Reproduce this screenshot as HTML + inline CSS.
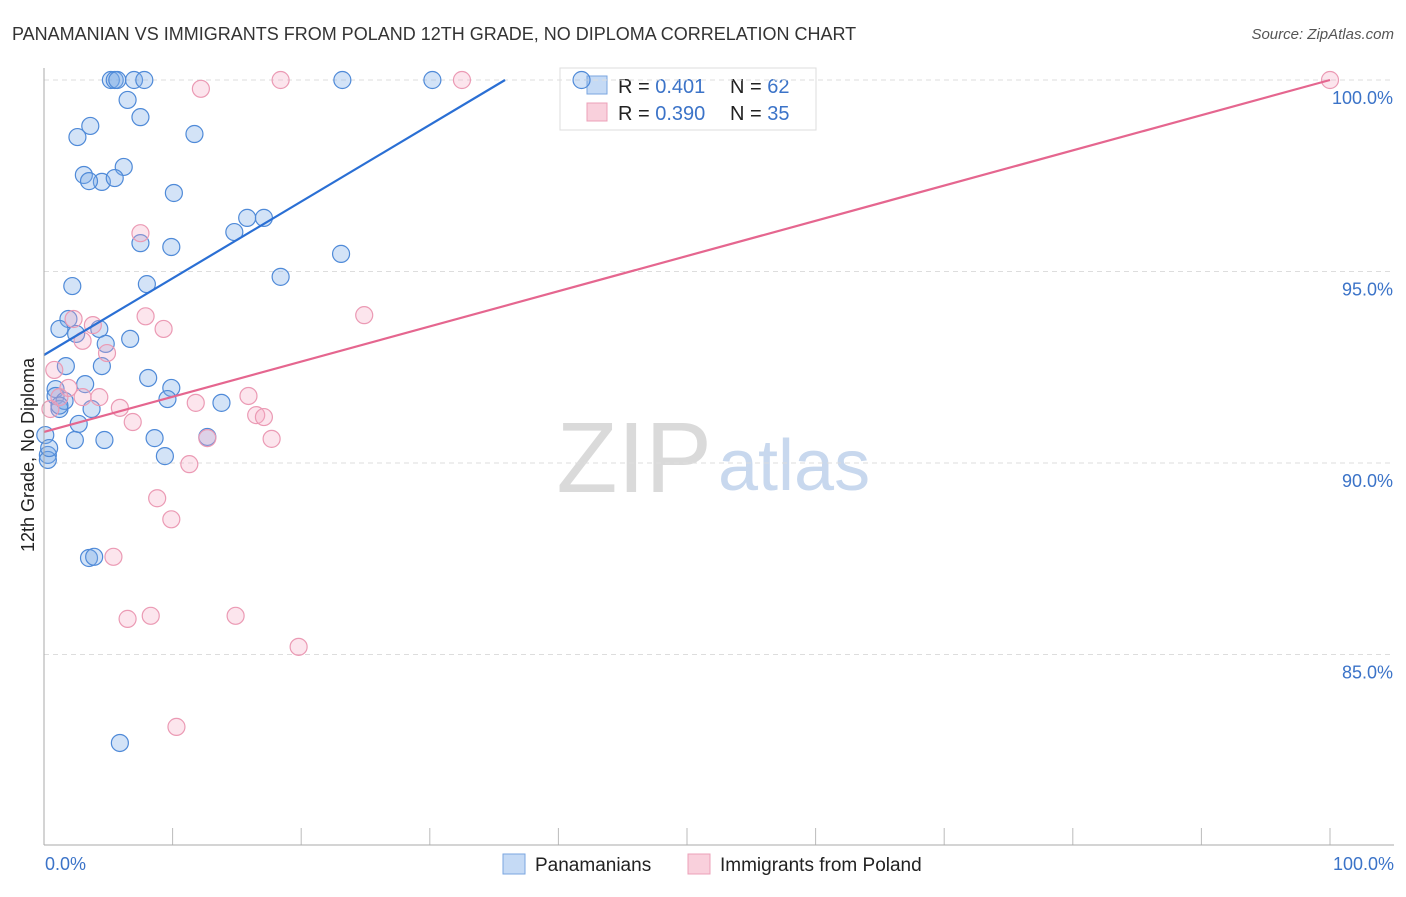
<!DOCTYPE html>
<html><head><meta charset="utf-8"><style>
body{margin:0;background:#fff;font-family:"Liberation Sans",sans-serif}
svg text{font-family:"Liberation Sans",sans-serif}
</style></head><body>
<svg id="c" width="1406" height="892">
<text x="12" y="40" font-size="18" fill="#333">PANAMANIAN VS IMMIGRANTS FROM POLAND 12TH GRADE, NO DIPLOMA CORRELATION CHART</text>
<text x="1394" y="39" font-size="15" fill="#555" text-anchor="end" font-style="italic">Source: ZipAtlas.com</text>
<text x="712" y="492" font-size="100" fill="#dadada" text-anchor="end" font-family="Liberation Serif">ZIP</text>
<text x="718" y="490" font-size="72" fill="#c8d8ee">atlas</text>
<text transform="translate(34,455) rotate(-90)" font-size="18" fill="#222" text-anchor="middle">12th Grade, No Diploma</text>
<g>
<rect x="560" y="68" width="256" height="62" fill="#fff" stroke="#ddd"/>
<rect x="587" y="76" width="20" height="18" fill="#c5daf5" stroke="#7aa6e0"/>
<rect x="587" y="103" width="20" height="18" fill="#f9d0dc" stroke="#eca0b8"/>
<text x="618" y="93" font-size="20" fill="#222">R = <tspan fill="#3b73c8">0.401</tspan></text>
<text x="730" y="93" font-size="20" fill="#222">N = <tspan fill="#3b73c8">62</tspan></text>
<text x="618" y="120" font-size="20" fill="#222">R = <tspan fill="#3b73c8">0.390</tspan></text>
<text x="730" y="120" font-size="20" fill="#222">N = <tspan fill="#3b73c8">35</tspan></text>
</g>
<g id="grid"></g><g id="pts"></g><g id="lines"></g>
<line x1="44" y1="68" x2="44" y2="845" stroke="#aaa"/>
<line x1="44" y1="845" x2="1394" y2="845" stroke="#aaa"/>
<text x="45" y="870" font-size="18" fill="#3b73c8">0.0%</text>
<text x="1394" y="870" font-size="18" fill="#3b73c8" text-anchor="end">100.0%</text>
<g>
<rect x="503" y="854" width="22" height="20" fill="#c5daf5" stroke="#7aa6e0"/>
<text x="535" y="871" font-size="19" fill="#222">Panamanians</text>
<rect x="688" y="854" width="22" height="20" fill="#f9d0dc" stroke="#eca0b8"/>
<text x="720" y="871" font-size="19" fill="#222">Immigrants from Poland</text>
</g>
</svg>
<script>
const yTicks=[100,95,90,85];
const yTickLabels=["100.0%","95.0%","90.0%","85.0%"];
const blueX=[5.2,5.5,5.7,7.0,7.8,23.2,30.2,41.8,6.5,7.5,3.6,2.6,11.7,6.2,3.1,4.5,3.5,5.5,10.1,15.8,17.1,14.8,7.5,9.9,23.1,18.4,2.2,8.0,1.9,1.2,2.5,4.3,4.8,6.7,1.7,4.5,8.1,9.9,3.2,0.9,0.9,1.2,1.6,3.7,9.6,13.8,2.7,0.1,2.4,4.7,8.6,12.7,9.4,0.3,0.3,0.4,3.5,3.9,5.9,1.2];
const blueY=[100,100,100,100,100,100,100,100,99.48,99.03,98.8,98.51,98.59,97.73,97.52,97.34,97.36,97.44,97.05,96.4,96.4,96.03,95.74,95.64,95.46,94.86,94.62,94.67,93.76,93.5,93.37,93.5,93.11,93.24,92.53,92.53,92.22,91.96,92.06,91.93,91.75,91.41,91.62,91.41,91.67,91.57,91.02,90.73,90.6,90.6,90.65,90.68,90.18,90.21,90.08,90.39,87.52,87.55,82.69,91.5];
const pinkX=[18.4,32.5,100,12.2,7.5,7.9,24.9,9.3,3.8,2.3,3.0,4.9,0.8,1.9,4.3,5.9,11.8,15.9,6.9,16.5,17.1,17.7,12.7,11.3,8.8,9.9,5.4,6.5,8.3,14.9,19.8,10.3,0.5,1.2,3.0];
const pinkY=[100,100,100,99.77,96.0,93.83,93.86,93.5,93.6,93.76,93.19,92.87,92.43,91.96,91.72,91.44,91.57,91.75,91.07,91.25,91.2,90.63,90.65,89.97,89.08,88.53,87.55,85.93,86.01,86.01,85.2,83.11,91.41,91.72,91.72];
const blueLine=[[0,92.82],[35.85,100]];
const pinkLine=[[0,90.81],[100,100]];
const X0=44,X1=1330,Y100=80,PX=38.3;
const sx=v=>X0+(X1-X0)*v/100, sy=v=>Y100+(100-v)*PX;
const NS="http://www.w3.org/2000/svg";
function mk(t,a,p){const e=document.createElementNS(NS,t);for(const k in a)e.setAttribute(k,a[k]);p.appendChild(e);return e;}
const g=document.getElementById('grid');
yTicks.forEach((t,i)=>{
 const l=mk('line',{x1:44,x2:1394,y1:sy(t),y2:sy(t),stroke:'#ddd','stroke-dasharray':'5,4'},g);
 
 
 const tx=mk('text',{x:1393,y:sy(t)+24,'font-size':18,fill:'#3b73c8','text-anchor':'end'},g);
 tx.textContent=yTickLabels[i];
 
 
});
for(let k=0;k<=10;k++){
 const l=mk('line',{x1:sx(k*10),x2:sx(k*10),y1:828,y2:845,stroke:'#bbb'},g);
 
 
}
const p=document.getElementById('pts');
blueX.forEach((x,i)=>{
 const c=mk('circle',{cx:sx(x),cy:sy(blueY[i]),r:8.5,fill:'rgba(120,170,230,0.33)',stroke:'#4f8ad8','stroke-width':1.2},p);
 
 
});
pinkX.forEach((x,i)=>{
 const c=mk('circle',{cx:sx(x),cy:sy(pinkY[i]),r:8.5,fill:'rgba(245,170,195,0.3)',stroke:'#eb9ab4','stroke-width':1.2},p);
 
 
});
const L=document.getElementById('lines');
const bl=mk('line',{x1:sx(blueLine[0][0]),y1:sy(blueLine[0][1]),x2:sx(blueLine[1][0]),y2:sy(blueLine[1][1]),stroke:'#2a6fd4','stroke-width':2.2},L);


const pl=mk('line',{x1:sx(pinkLine[0][0]),y1:sy(pinkLine[0][1]),x2:sx(pinkLine[1][0]),y2:sy(pinkLine[1][1]),stroke:'#e5668f','stroke-width':2.2},L);


</script>
</body></html>
